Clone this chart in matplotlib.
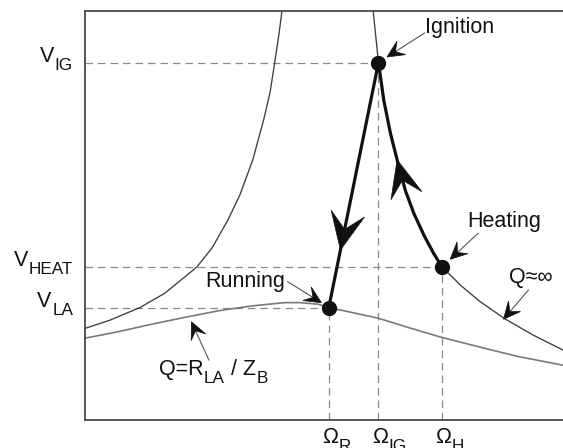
import numpy as np
import matplotlib
matplotlib.use("Agg")
import matplotlib.pyplot as plt
from matplotlib.patches import Polygon
from matplotlib.lines import Line2D
from matplotlib.transforms import IdentityTransform

plt.rcParams['font.family'] = ['Liberation Sans', 'DejaVu Sans']

# Resonant tank output voltage vs. switching frequency (normalised units)
# Unloaded tank (Q ≈ ∞): branch below and above resonance
open_lo_f = [0.00, 0.52, 1.15, 1.67, 2.34, 2.66, 2.99, 3.24, 3.51, 3.74, 3.87, 3.97, 4.06, 4.12, 4.18]
open_lo_v = [2.24, 2.44, 2.75, 3.10, 3.74, 4.21, 4.89, 5.50, 6.36, 7.35, 8.00, 8.75, 9.45, 10.0, 10.6]
open_hi_f = [6.00, 6.03, 6.14, 6.25, 6.39, 6.53, 6.70, 6.88, 7.09, 7.29, 7.47, 7.68, 7.87, 8.26, 8.79, 9.37, 10.0]
open_hi_v = [10.6, 9.98, 8.74, 7.82, 7.01, 6.36, 5.62, 5.05, 4.52, 4.08, 3.74, 3.50, 3.28, 2.90, 2.47, 2.08, 1.71]

# Loaded tank, Q = R_LA / Z_B
load_f = [0.00, 0.70, 1.39, 2.09, 2.79, 3.49, 4.18, 4.50, 4.88, 5.10, 5.54, 6.13, 6.74, 7.43, 8.37, 9.07, 10.0]
load_v = [2.00, 2.16, 2.34, 2.51, 2.67, 2.79, 2.87, 2.87, 2.83, 2.75, 2.64, 2.49, 2.27, 2.03, 1.75, 1.55, 1.34]

# Operating points
f_run, f_ign, f_heat = 5.10, 6.14, 7.47
v_la, v_ig, v_heat = 2.75, 8.74, 3.74

MAIN = 15.5
SUB = 12.3
INK = '#111111'

fig = plt.figure(figsize=(5.63, 4.48), dpi=100)
ax = fig.add_axes([85 / 563, 28 / 448, 478 / 563, 409 / 448])
ax.set_xlim(0, 10)
ax.set_ylim(0, 10)
ax.set_xticks([])
ax.set_yticks([])
for side in ('left', 'top', 'bottom'):
    ax.spines[side].set_color('#4a4a4a')
    ax.spines[side].set_linewidth(1.3)
ax.spines['right'].set_visible(False)

# guide lines
guide = dict(color='#8a8a8a', lw=0.9, dashes=(6, 4), zorder=1)
for f, v in ((f_ign, v_ig), (f_heat, v_heat), (f_run, v_la)):
    ax.plot([0, f], [v, v], **guide)
    ax.plot([f, f], [0, v], **guide)

# tank curves
curve = dict(solid_joinstyle='round', solid_capstyle='round', zorder=2)
ax.plot(open_lo_f, open_lo_v, color='#3c3c3c', lw=0.95, **curve)
ax.plot(open_hi_f, open_hi_v, color='#3c3c3c', lw=0.95, **curve)
ax.plot(load_f, load_v, color='#7a7a7a', lw=1.2, **curve)

# start-up trajectory: heating -> ignition -> running
hi_f = np.array(open_hi_f)
hi_v = np.array(open_hi_v)
seg = (hi_f >= f_ign) & (hi_f <= f_heat)
traj_f = list(hi_f[seg][::-1]) + [f_run]
traj_v = list(hi_v[seg][::-1]) + [v_la]
ax.plot(traj_f, traj_v, color=INK, lw=2.3, solid_joinstyle='round', zorder=4)
ax.plot([f_run, f_ign, f_heat], [v_la, v_ig, v_heat], 'o', ms=10, color=INK, zorder=5)


def px(x, y):
    return ax.transData.transform((x, y))


def stealth(tip, d, L, W, N):
    d = np.asarray(d, float)
    d = d / np.hypot(*d)
    n = np.array([-d[1], d[0]])
    verts = [tip, tip - L * d + W * n, tip - N * d, tip - L * d - W * n]
    ax.add_patch(Polygon(verts, closed=True, transform=IdentityTransform(),
                         fc=INK, ec=INK, lw=0.5, zorder=6))


# direction arrows on the trajectory
a0, a1 = px(f_ign, v_ig), px(f_run, v_la)
stealth(a0 + 0.765 * (a1 - a0), a1 - a0, 37, 17, 21)
k = int(np.where(np.isclose(hi_f, 6.53))[0][0])
stealth(px(hi_f[k], hi_v[k]), px(hi_f[k - 1], hi_v[k - 1]) - px(hi_f[k + 1], hi_v[k + 1]), 37, 16, 21)


def pointer(anchor, tip_off, tail_off):
    a = px(*anchor)
    tip = a + np.array(tip_off, float)
    tail = a + np.array(tail_off, float)
    d = (tip - tail) / np.hypot(*(tip - tail))
    notch = tip - 9 * d
    ax.add_line(Line2D([tail[0], notch[0]], [tail[1], notch[1]],
                       transform=IdentityTransform(), color='#555555', lw=0.8, zorder=5))
    stealth(tip, d, 17, 8, 10)


def note(anchor, off, text, ha='left', size=MAIN):
    return ax.annotate(text, xy=anchor, xytext=off, textcoords='offset pixels',
                       ha=ha, va='baseline', fontsize=size, color=INK)


def sub_after(artist, text, dy=-6):
    return ax.annotate(text, xy=(1, 0), xycoords=artist, xytext=(0.5, dy),
                       textcoords='offset pixels', ha='left', va='bottom',
                       fontsize=SUB, color=INK)


# callouts
pointer((f_ign, v_ig), (8.5, 5.5), (46, 29.5))
note((f_ign, v_ig), (47, 29.5), 'Ignition')

pointer((f_heat, v_heat), (8, 7.7), (36, 33.7))
note((f_heat, v_heat), (25, 40), 'Heating')

pointer((f_run, v_la), (-7.3, 4.8), (-41, 25.8))
note((f_run, v_la), (-44, 20.5), 'Running', ha='right')

pointer((8.79, 2.47), (-1.7, -0.3), (23.3, 29))
note((8.79, 2.47), (4, 36), 'Q≈∞')

pointer((2.09, 2.51), (6.5, -4.4), (24, -42.7))
q1 = note((2.09, 2.51), (-26, -57.7), 'Q=R')
q2 = sub_after(q1, 'LA')
q3 = ax.annotate(' / Z', xy=(1, 0), xycoords=q2, xytext=(0.5, 6), textcoords='offset pixels',
                 ha='left', va='bottom', fontsize=MAIN, color=INK)
sub_after(q3, 'B')

# axis labels
for v, s in ((v_ig, 'IG'), (v_heat, 'HEAT'), (v_la, 'LA')):
    t = ax.annotate(s, xy=(0, v), xycoords=('axes fraction', 'data'), xytext=(-12, -7),
                    textcoords='offset pixels', ha='right', va='baseline', fontsize=SUB, color=INK)
    ax.annotate('V', xy=(0, 0), xycoords=t, xytext=(-0.5, 6), textcoords='offset pixels',
                ha='right', va='bottom', fontsize=MAIN, color=INK)

for f, s in ((f_run, 'R'), (f_ign, 'IG'), (f_heat, 'H')):
    m = ax.annotate('Ω', xy=(f, 0), xycoords=('data', 'axes fraction'), xytext=(1.5, -23),
                    textcoords='offset pixels', ha='center', va='baseline', fontsize=MAIN, color=INK)
    sub_after(m, s)

fig.savefig('out.png', dpi=100)
